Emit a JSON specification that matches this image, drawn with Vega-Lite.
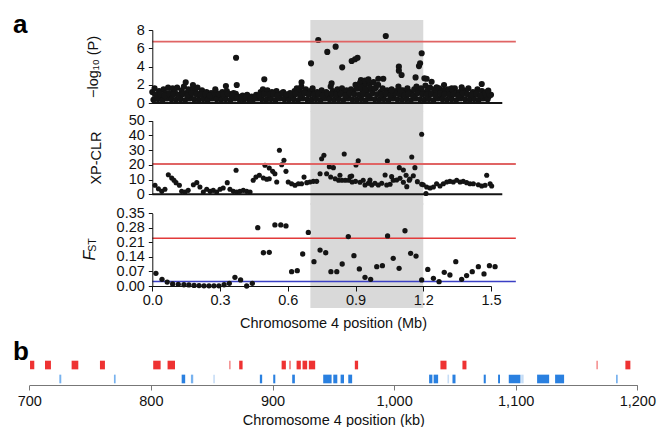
{
"$schema": "https://vega.github.io/schema/vega-lite/v6.json",
"padding": 0,
"spacing": 0,
"bounds": "flush",
"datasets": {
"p": [
{"x":0.00,"y":1.2},{"x":0.01,"y":1.6},{"x":0.02,"y":0.9},{"x":0.03,"y":1.3},{"x":0.04,"y":0.7},{"x":0.05,"y":1.5},{"x":0.06,"y":1.1},{"x":0.07,"y":1.7},{"x":0.08,"y":1.0},{"x":0.09,"y":1.6},
{"x":0.10,"y":1.2},{"x":0.11,"y":1.7},{"x":0.12,"y":0.9},{"x":0.13,"y":1.4},{"x":0.14,"y":1.8},{"x":0.15,"y":1.1},{"x":0.16,"y":1.5},{"x":0.17,"y":0.8},{"x":0.18,"y":1.6},{"x":0.19,"y":1.3},
{"x":0.20,"y":1.7},{"x":0.21,"y":1.0},{"x":0.22,"y":1.4},{"x":0.23,"y":0.8},{"x":0.24,"y":1.2},{"x":0.25,"y":0.7},{"x":0.26,"y":1.1},{"x":0.27,"y":0.9},{"x":0.28,"y":1.3},{"x":0.29,"y":0.8},
{"x":0.30,"y":1.0},{"x":0.31,"y":1.2},{"x":0.32,"y":0.9},{"x":0.33,"y":1.3},{"x":0.34,"y":1.0},{"x":0.35,"y":0.8},{"x":0.36,"y":1.1},{"x":0.37,"y":1.0},{"x":0.38,"y":0.7},{"x":0.39,"y":0.5},
{"x":0.40,"y":0.8},{"x":0.41,"y":0.6},{"x":0.42,"y":0.9},{"x":0.43,"y":0.5},{"x":0.44,"y":0.7},{"x":0.45,"y":0.6},{"x":0.46,"y":0.9},{"x":0.47,"y":0.7},{"x":0.48,"y":1.2},{"x":0.49,"y":1.5},
{"x":0.50,"y":1.1},{"x":0.51,"y":1.4},{"x":0.52,"y":0.8},{"x":0.53,"y":1.2},{"x":0.54,"y":0.9},{"x":0.55,"y":1.3},{"x":0.56,"y":0.7},{"x":0.57,"y":1.0},{"x":0.58,"y":1.2},{"x":0.59,"y":0.6},
{"x":0.60,"y":0.9},{"x":0.61,"y":1.1},{"x":0.62,"y":0.8},{"x":0.63,"y":1.3},{"x":0.64,"y":1.6},{"x":0.65,"y":1.4},{"x":0.66,"y":1.8},{"x":0.67,"y":1.2},{"x":0.68,"y":1.5},{"x":0.69,"y":1.0},
{"x":0.70,"y":1.3},{"x":0.71,"y":1.6},{"x":0.72,"y":1.1},{"x":0.73,"y":1.2},{"x":0.74,"y":0.9},{"x":0.75,"y":1.4},{"x":0.76,"y":1.0},{"x":0.77,"y":1.2},{"x":0.78,"y":0.8},{"x":0.79,"y":1.8},
{"x":0.80,"y":1.3},{"x":0.81,"y":1.0},{"x":0.82,"y":1.5},{"x":0.83,"y":1.2},{"x":0.84,"y":1.6},{"x":0.85,"y":1.1},{"x":0.86,"y":1.4},{"x":0.87,"y":0.9},{"x":0.88,"y":1.5},{"x":0.89,"y":1.2},
{"x":0.90,"y":2.0},{"x":0.91,"y":1.6},{"x":0.92,"y":2.2},{"x":0.93,"y":1.4},{"x":0.94,"y":1.9},{"x":0.95,"y":1.3},{"x":0.96,"y":2.1},{"x":0.97,"y":1.5},{"x":0.98,"y":2.3},{"x":0.99,"y":1.7},
{"x":1.00,"y":2.0},{"x":1.01,"y":1.2},{"x":1.02,"y":1.6},{"x":1.03,"y":1.0},{"x":1.04,"y":1.4},{"x":1.05,"y":1.1},{"x":1.06,"y":1.5},{"x":1.07,"y":0.9},{"x":1.08,"y":1.3},{"x":1.09,"y":1.2},
{"x":1.10,"y":1.0},{"x":1.11,"y":1.4},{"x":1.12,"y":1.1},{"x":1.13,"y":1.6},{"x":1.14,"y":1.2},{"x":1.15,"y":1.0},{"x":1.16,"y":1.5},{"x":1.17,"y":1.8},{"x":1.18,"y":1.3},{"x":1.19,"y":1.6},
{"x":1.20,"y":1.2},{"x":1.21,"y":1.9},{"x":1.22,"y":1.4},{"x":1.23,"y":1.7},{"x":1.24,"y":1.1},{"x":1.25,"y":1.5},{"x":1.26,"y":1.2},{"x":1.27,"y":1.6},{"x":1.28,"y":1.0},{"x":1.29,"y":1.4},
{"x":1.30,"y":1.1},{"x":1.31,"y":1.5},{"x":1.32,"y":0.9},{"x":1.33,"y":1.3},{"x":1.34,"y":1.6},{"x":1.35,"y":1.0},{"x":1.36,"y":1.2},{"x":1.37,"y":0.8},{"x":1.38,"y":1.4},{"x":1.39,"y":1.1},
{"x":1.40,"y":1.6},{"x":1.41,"y":0.9},{"x":1.42,"y":1.2},{"x":1.43,"y":1.0},{"x":1.44,"y":1.5},{"x":1.45,"y":0.8},{"x":1.46,"y":1.3},{"x":1.47,"y":1.0},{"x":1.48,"y":1.2},{"x":1.49,"y":0.7},{"x":1.50,"y":0.9},
{"x":0.005,"y":0.35},{"x":0.025,"y":0.45},{"x":0.045,"y":0.3},{"x":0.065,"y":0.5},{"x":0.085,"y":0.4},{"x":0.105,"y":0.35},{"x":0.125,"y":0.45},{"x":0.145,"y":0.3},{"x":0.165,"y":0.5},{"x":0.185,"y":0.4},
{"x":0.205,"y":0.35},{"x":0.225,"y":0.45},{"x":0.245,"y":0.3},{"x":0.265,"y":0.5},{"x":0.285,"y":0.4},{"x":0.305,"y":0.35},{"x":0.325,"y":0.45},{"x":0.345,"y":0.3},{"x":0.365,"y":0.5},{"x":0.385,"y":0.4},
{"x":0.405,"y":0.35},{"x":0.425,"y":0.45},{"x":0.445,"y":0.3},{"x":0.465,"y":0.5},{"x":0.485,"y":0.4},{"x":0.505,"y":0.35},{"x":0.525,"y":0.45},{"x":0.545,"y":0.3},{"x":0.565,"y":0.5},{"x":0.585,"y":0.4},
{"x":0.605,"y":0.35},{"x":0.625,"y":0.45},{"x":0.645,"y":0.3},{"x":0.665,"y":0.5},{"x":0.685,"y":0.4},{"x":0.705,"y":0.35},{"x":0.725,"y":0.45},{"x":0.745,"y":0.3},{"x":0.765,"y":0.5},{"x":0.785,"y":0.4},
{"x":0.805,"y":0.35},{"x":0.825,"y":0.45},{"x":0.845,"y":0.3},{"x":0.865,"y":0.5},{"x":0.885,"y":0.4},{"x":0.905,"y":0.35},{"x":0.925,"y":0.45},{"x":0.945,"y":0.3},{"x":0.965,"y":0.5},{"x":0.985,"y":0.4},
{"x":1.005,"y":0.35},{"x":1.025,"y":0.45},{"x":1.045,"y":0.3},{"x":1.065,"y":0.5},{"x":1.085,"y":0.4},{"x":1.105,"y":0.35},{"x":1.125,"y":0.45},{"x":1.145,"y":0.3},{"x":1.165,"y":0.5},{"x":1.185,"y":0.4},
{"x":1.205,"y":0.35},{"x":1.225,"y":0.45},{"x":1.245,"y":0.3},{"x":1.265,"y":0.5},{"x":1.285,"y":0.4},{"x":1.305,"y":0.35},{"x":1.325,"y":0.45},{"x":1.345,"y":0.3},{"x":1.365,"y":0.5},{"x":1.385,"y":0.4},
{"x":1.405,"y":0.35},{"x":1.425,"y":0.45},{"x":1.445,"y":0.3},{"x":1.465,"y":0.5},{"x":1.485,"y":0.4},
{"x":0.015,"y":0.9},{"x":0.035,"y":1.0},{"x":0.055,"y":0.8},{"x":0.075,"y":1.1},{"x":0.095,"y":0.95},{"x":0.115,"y":0.9},{"x":0.135,"y":1.0},{"x":0.155,"y":0.8},{"x":0.175,"y":1.1},{"x":0.195,"y":0.95},
{"x":0.215,"y":0.9},{"x":0.235,"y":1.0},{"x":0.255,"y":0.8},{"x":0.275,"y":1.1},{"x":0.295,"y":0.95},{"x":0.315,"y":0.9},{"x":0.335,"y":1.0},{"x":0.355,"y":0.8},{"x":0.375,"y":0.6},{"x":0.395,"y":0.5},
{"x":0.415,"y":0.6},{"x":0.435,"y":0.5},{"x":0.455,"y":0.6},{"x":0.475,"y":0.8},{"x":0.495,"y":0.95},{"x":0.515,"y":0.9},{"x":0.535,"y":1.0},{"x":0.555,"y":0.8},{"x":0.575,"y":1.1},{"x":0.595,"y":0.95},
{"x":0.615,"y":0.9},{"x":0.635,"y":1.0},{"x":0.655,"y":0.8},{"x":0.675,"y":1.1},{"x":0.695,"y":0.95},{"x":0.715,"y":0.9},{"x":0.735,"y":1.0},{"x":0.755,"y":0.8},{"x":0.775,"y":1.1},{"x":0.795,"y":0.95},
{"x":0.815,"y":0.9},{"x":0.835,"y":1.0},{"x":0.855,"y":0.8},{"x":0.875,"y":1.1},{"x":0.895,"y":0.95},{"x":0.915,"y":0.9},{"x":0.935,"y":1.0},{"x":0.955,"y":0.8},{"x":0.975,"y":1.1},{"x":0.995,"y":0.95},
{"x":1.015,"y":0.9},{"x":1.035,"y":1.0},{"x":1.055,"y":0.8},{"x":1.075,"y":1.1},{"x":1.095,"y":0.95},{"x":1.115,"y":0.9},{"x":1.135,"y":1.0},{"x":1.155,"y":0.8},{"x":1.175,"y":1.1},{"x":1.195,"y":0.95},
{"x":1.215,"y":0.9},{"x":1.235,"y":1.0},{"x":1.255,"y":0.8},{"x":1.275,"y":1.1},{"x":1.295,"y":0.95},{"x":1.315,"y":0.9},{"x":1.335,"y":1.0},{"x":1.355,"y":0.8},{"x":1.375,"y":1.1},{"x":1.395,"y":0.95},
{"x":1.415,"y":0.9},{"x":1.435,"y":1.0},{"x":1.455,"y":0.8},{"x":1.475,"y":1.1},{"x":1.495,"y":0.9},
{"x":0.905,"y":1.6},{"x":0.925,"y":1.7},{"x":0.945,"y":1.5},{"x":0.965,"y":1.7},{"x":0.985,"y":1.6},
{"x":0.148,"y":2.27},{"x":0.18,"y":1.97},{"x":0.279,"y":1.5},{"x":0.326,"y":1.86},{"x":0.371,"y":4.96},{"x":0.374,"y":1.97},{"x":0.496,"y":2.6},{"x":0.661,"y":2.27},
{"x":0.703,"y":4.35},{"x":0.735,"y":6.9},{"x":0.775,"y":5.6},{"x":0.794,"y":2.16},{"x":0.812,"y":6.17},{"x":0.841,"y":3.91},{"x":0.883,"y":4.6},{"x":0.898,"y":4.79},{"x":0.909,"y":4.96},
{"x":0.924,"y":2.5},{"x":0.942,"y":2.45},{"x":0.957,"y":2.6},{"x":1.001,"y":2.66},{"x":1.023,"y":2.66},{"x":1.034,"y":7.34},{"x":1.092,"y":3.98},{"x":1.092,"y":3.54},{"x":1.104,"y":3.07},
{"x":1.166,"y":2.8},{"x":1.181,"y":4.05},{"x":1.186,"y":4.35},{"x":1.193,"y":5.45},{"x":1.205,"y":2.7},{"x":1.215,"y":2.66},{"x":1.237,"y":2.33},{"x":1.259,"y":1.72},{"x":1.292,"y":1.97},
{"x":1.326,"y":1.6},{"x":1.37,"y":1.72},{"x":1.459,"y":2.08},{"x":1.488,"y":1.35},{"x":1.06,"y":1.4},{"x":1.09,"y":1.8},{"x":1.10,"y":1.4}
],
"q": [
{"x":0.012,"y":6.1},{"x":0.027,"y":3.8},{"x":0.042,"y":2.0},{"x":0.056,"y":3.4},{"x":0.071,"y":13.3},{"x":0.086,"y":11.1},{"x":0.096,"y":9.5},{"x":0.105,"y":7.9},{"x":0.12,"y":6.1},{"x":0.13,"y":2.0},
{"x":0.145,"y":1.6},{"x":0.159,"y":2.7},{"x":0.182,"y":6.5},{"x":0.197,"y":7.9},{"x":0.211,"y":5.0},{"x":0.226,"y":1.6},{"x":0.241,"y":3.4},{"x":0.256,"y":2.0},{"x":0.27,"y":2.7},{"x":0.285,"y":1.6},
{"x":0.3,"y":3.4},{"x":0.314,"y":4.3},{"x":0.332,"y":7.9},{"x":0.344,"y":3.4},{"x":0.359,"y":2.0},{"x":0.371,"y":16.3},{"x":0.374,"y":1.6},{"x":0.388,"y":2.0},{"x":0.403,"y":2.7},{"x":0.418,"y":2.0},
{"x":0.433,"y":1.6},{"x":0.447,"y":9.5},{"x":0.459,"y":11.7},{"x":0.474,"y":12.9},{"x":0.492,"y":11.1},{"x":0.499,"y":19.7},{"x":0.507,"y":10.2},{"x":0.518,"y":10.6},{"x":0.518,"y":17.9},{"x":0.533,"y":15.6},
{"x":0.543,"y":14.0},{"x":0.551,"y":8.4},{"x":0.563,"y":29.9},{"x":0.573,"y":20.1},{"x":0.583,"y":23.1},{"x":0.592,"y":15.6},{"x":0.602,"y":8.4},{"x":0.617,"y":7.2},{"x":0.632,"y":6.1},{"x":0.647,"y":7.2},
{"x":0.661,"y":7.2},{"x":0.672,"y":11.7},{"x":0.684,"y":7.9},{"x":0.698,"y":8.4},{"x":0.713,"y":8.8},{"x":0.728,"y":8.8},{"x":0.743,"y":14.0},{"x":0.75,"y":24.2},{"x":0.76,"y":26.5},{"x":0.772,"y":14.0},
{"x":0.784,"y":18.8},{"x":0.79,"y":11.8},{"x":0.802,"y":18.1},{"x":0.81,"y":10.6},{"x":0.825,"y":9.5},{"x":0.831,"y":12.9},{"x":0.84,"y":9.5},{"x":0.85,"y":27.4},{"x":0.855,"y":9.5},{"x":0.87,"y":9.5},
{"x":0.876,"y":12.0},{"x":0.883,"y":12.4},{"x":0.885,"y":8.4},{"x":0.9,"y":8.8},{"x":0.902,"y":19.9},{"x":0.912,"y":22.8},{"x":0.92,"y":8.2},{"x":0.934,"y":9.5},{"x":0.942,"y":6.3},{"x":0.957,"y":7.5},
{"x":0.961,"y":7.9},{"x":0.964,"y":9.7},{"x":0.972,"y":6.3},{"x":0.986,"y":7.5},{"x":1.001,"y":6.3},{"x":1.016,"y":7.5},{"x":1.031,"y":13.1},{"x":1.038,"y":6.3},{"x":1.041,"y":22.6},{"x":1.053,"y":6.8},
{"x":1.06,"y":12.0},{"x":1.067,"y":9.5},{"x":1.082,"y":9.7},{"x":1.094,"y":18.1},{"x":1.097,"y":10.9},{"x":1.112,"y":16.5},{"x":1.112,"y":8.2},{"x":1.124,"y":12.9},{"x":1.127,"y":5.2},{"x":1.138,"y":9.5},
{"x":1.141,"y":10.4},{"x":1.149,"y":25.3},{"x":1.156,"y":12.6},{"x":1.163,"y":18.1},{"x":1.174,"y":8.6},{"x":1.193,"y":40.8},{"x":1.193,"y":6.8},{"x":1.2,"y":6.5},{"x":1.212,"y":0.5},{"x":1.215,"y":5.0},
{"x":1.23,"y":4.3},{"x":1.245,"y":5.0},{"x":1.259,"y":7.2},{"x":1.274,"y":5.6},{"x":1.289,"y":7.2},{"x":1.304,"y":8.4},{"x":1.318,"y":8.8},{"x":1.333,"y":8.4},{"x":1.348,"y":9.5},{"x":1.363,"y":8.4},
{"x":1.377,"y":8.8},{"x":1.392,"y":7.9},{"x":1.407,"y":7.2},{"x":1.422,"y":7.2},{"x":1.444,"y":6.5},{"x":1.459,"y":5.6},{"x":1.474,"y":6.1},{"x":1.481,"y":12.9},{"x":1.496,"y":7.2},{"x":1.503,"y":5.6}
],
"f": [
{"x":0.016,"y":0.061},{"x":0.043,"y":0.032},{"x":0.066,"y":0.019},{"x":0.09,"y":0.010},{"x":0.115,"y":0.008},{"x":0.14,"y":0.006},{"x":0.162,"y":0.005},{"x":0.185,"y":0.003},{"x":0.207,"y":0.002},{"x":0.229,"y":0.001},
{"x":0.251,"y":0.001},{"x":0.273,"y":0.001},{"x":0.295,"y":0.001},{"x":0.318,"y":0.006},{"x":0.341,"y":0.013},{"x":0.366,"y":0.042},{"x":0.391,"y":0.029},{"x":0.418,"y":0.0},{"x":0.443,"y":0.013},{"x":0.467,"y":0.281},
{"x":0.492,"y":0.16},{"x":0.518,"y":0.162},{"x":0.543,"y":0.294},{"x":0.569,"y":0.294},{"x":0.592,"y":0.289},{"x":0.617,"y":0.069},{"x":0.642,"y":0.074},{"x":0.666,"y":0.154},{"x":0.691,"y":0.258},{"x":0.716,"y":0.117},
{"x":0.743,"y":0.173},{"x":0.768,"y":0.16},{"x":0.791,"y":0.069},{"x":0.817,"y":0.069},{"x":0.841,"y":0.106},{"x":0.868,"y":0.238},{"x":0.893,"y":0.146},{"x":0.917,"y":0.082},{"x":0.942,"y":0.042},{"x":0.967,"y":0.032},
{"x":0.994,"y":0.093},{"x":1.019,"y":0.098},{"x":1.042,"y":0.241},{"x":1.067,"y":0.133},{"x":1.093,"y":0.085},{"x":1.119,"y":0.266},{"x":1.144,"y":0.157},{"x":1.168,"y":0.144},{"x":1.193,"y":0.029},{"x":1.22,"y":0.08},
{"x":1.245,"y":0.037},{"x":1.27,"y":0.021},{"x":1.293,"y":0.066},{"x":1.318,"y":0.053},{"x":1.344,"y":0.117},{"x":1.37,"y":0.032},{"x":1.392,"y":0.05},{"x":1.417,"y":0.069},{"x":1.444,"y":0.093},{"x":1.469,"y":0.058},
{"x":1.493,"y":0.098},{"x":1.518,"y":0.093}
],
"g": [
{"s":700.6,"e":704.1,"t":"r","g":"r1"},{"s":712.9,"e":717.8,"t":"r","g":"r1"},{"s":734.8,"e":740.3,"t":"r","g":"r1"},{"s":758.1,"e":762.2,"t":"r","g":"r1"},{"s":801.9,"e":808.0,"t":"r","g":"r1"},
{"s":813.7,"e":819.8,"t":"r","g":"r1"},{"s":864.4,"e":865.5,"t":"r","g":"r2"},{"s":872.6,"e":875.4,"t":"r","g":"r1"},{"s":907.5,"e":911.0,"t":"r","g":"r1"},{"s":913.7,"e":915.1,"t":"r","g":"r2"},
{"s":919.8,"e":923.3,"t":"r","g":"r1"},{"s":924.7,"e":928.5,"t":"r","g":"r1"},{"s":929.9,"e":935.1,"t":"r","g":"r1"},{"s":967.7,"e":970.4,"t":"r","g":"r1"},{"s":1038.1,"e":1043.1,"t":"r","g":"r1"},
{"s":1056.2,"e":1059.5,"t":"r","g":"r1"},{"s":1166.4,"e":1167.5,"t":"r","g":"r2"},{"s":1190.2,"e":1194.3,"t":"r","g":"r1"},
{"s":724.7,"e":726.3,"t":"b","g":"b2"},{"s":769.6,"e":771.0,"t":"b","g":"b2"},{"s":825.3,"e":828.2,"t":"b","g":"b1"},{"s":832.9,"e":834.8,"t":"b","g":"b2"},{"s":851.3,"e":852.6,"t":"b","g":"b3"},
{"s":889.6,"e":891.5,"t":"b","g":"b1"},{"s":900.6,"e":902.3,"t":"b","g":"b1"},{"s":916.2,"e":918.4,"t":"b","g":"b1"},{"s":941.7,"e":948.6,"t":"b","g":"b1"},{"s":950.0,"e":953.3,"t":"b","g":"b1"},
{"s":956.0,"e":958.8,"t":"b","g":"b1"},{"s":962.3,"e":965.5,"t":"b","g":"b1"},{"s":1028.8,"e":1031.5,"t":"b","g":"b1"},{"s":1032.5,"e":1036.2,"t":"b","g":"b1"},{"s":1043.9,"e":1045.2,"t":"b","g":"b3"},
{"s":1048.0,"e":1050.5,"t":"b","g":"b1"},{"s":1073.7,"e":1075.4,"t":"b","g":"b1"},{"s":1085.5,"e":1087.1,"t":"b","g":"b1"},{"s":1094.3,"e":1103.9,"t":"b","g":"b1"},{"s":1104.5,"e":1106.5,"t":"b","g":"b3"},
{"s":1117.6,"e":1127.5,"t":"b","g":"b1"},{"s":1132.4,"e":1139.8,"t":"b","g":"b1"},{"s":1182.5,"e":1183.9,"t":"b","g":"b2"}
]
},
"vconcat": [
{
"width": 657, "height": 112,
"layer": [
{"data": {"values": [{}]}, "mark": {"type": "rect", "color": "#d9d9d9"},
 "encoding": {
  "x": {"datum": 0.7, "type": "quantitative", "scale": {"domain": [0, 1.5], "range": [152.3, 491], "nice": false, "zero": false}, "axis": null},
  "x2": {"datum": 1.2},
  "y": {"datum": 9.1, "type": "quantitative", "scale": {"domain": [0, 8], "range": [103, 30], "nice": false, "zero": false}, "axis": {"values": [0, 2, 4, 6, 8], "format": "d", "labelOverlap": false, "offset": -152.3, "zindex": 1, "title": "−log₁₀ (P)", "titleX": -59, "titleAlign": "center", "titleBaseline": "middle", "titleAngle": 270}},
  "y2": {"datum": -0.99}}},
{"data": {"name": "p"}, "mark": {"type": "circle", "color": "#141414", "size": 38, "opacity": 1},
 "encoding": {
  "x": {"field": "x", "type": "quantitative", "axis": null},
  "y": {"field": "y", "type": "quantitative", "axis": {"values": [0, 2, 4, 6, 8], "format": "d", "labelOverlap": false, "offset": -152.3, "zindex": 1, "title": "−log₁₀ (P)", "titleX": -59, "titleAlign": "center", "titleBaseline": "middle", "titleAngle": 270}}}},
{"data": {"values": [{}]}, "mark": {"type": "rule", "color": "#141414", "strokeWidth": 2},
 "encoding": {"x": {"datum": 0, "type": "quantitative", "axis": null}, "x2": {"datum": 1.55}, "y": {"datum": 0, "type": "quantitative", "axis": {"values": [0, 2, 4, 6, 8], "format": "d", "labelOverlap": false, "offset": -152.3, "zindex": 1, "title": "−log₁₀ (P)", "titleX": -59, "titleAlign": "center", "titleBaseline": "middle", "titleAngle": 270}}}},
{"data": {"values": [{}]}, "mark": {"type": "rule", "color": "#e06464", "strokeWidth": 1.8},
 "encoding": {"x": {"datum": 0, "type": "quantitative", "axis": null}, "x2": {"datum": 1.61}, "y": {"datum": 6.72, "type": "quantitative", "axis": {"values": [0, 2, 4, 6, 8], "format": "d", "labelOverlap": false, "offset": -152.3, "zindex": 1, "title": "−log₁₀ (P)", "titleX": -59, "titleAlign": "center", "titleBaseline": "middle", "titleAngle": 270}}}},
{"data": {"values": [{}]}, "mark": {"type": "text", "text": "a", "fontSize": 26, "fontWeight": "bold", "align": "left", "baseline": "alphabetic", "color": "#000"},
 "encoding": {"x": {"datum": -0.617, "type": "quantitative", "axis": null}, "y": {"datum": 7.67, "type": "quantitative", "axis": {"values": [0, 2, 4, 6, 8], "format": "d", "labelOverlap": false, "offset": -152.3, "zindex": 1, "title": "−log₁₀ (P)", "titleX": -59, "titleAlign": "center", "titleBaseline": "middle", "titleAngle": 270}}}}
]
},
{
"width": 657, "height": 92,
"layer": [
{"data": {"values": [{}]}, "mark": {"type": "rect", "color": "#d9d9d9"},
 "encoding": {
  "x": {"datum": 0.7, "type": "quantitative", "scale": {"domain": [0, 1.5], "range": [152.3, 491], "nice": false, "zero": false}, "axis": null},
  "x2": {"datum": 1.2},
  "y": {"datum": 56.5, "type": "quantitative", "scale": {"domain": [0, 50], "range": [82.3, 8.7], "nice": false, "zero": false}, "axis": {"values": [0, 10, 20, 30, 40, 50], "format": "d", "labelOverlap": false, "offset": -152.3, "zindex": 1, "title": "XP-CLR", "titleX": -56, "titleAlign": "center", "titleBaseline": "middle", "titleAngle": 270}},
  "y2": {"datum": -7.2}}},
{"data": {"name": "q"}, "mark": {"type": "circle", "color": "#141414", "size": 26, "opacity": 1},
 "encoding": {
  "x": {"field": "x", "type": "quantitative", "axis": null},
  "y": {"field": "y", "type": "quantitative", "axis": {"values": [0, 10, 20, 30, 40, 50], "format": "d", "labelOverlap": false, "offset": -152.3, "zindex": 1, "title": "XP-CLR", "titleX": -56, "titleAlign": "center", "titleBaseline": "middle", "titleAngle": 270}}}},
{"data": {"values": [{}]}, "mark": {"type": "rule", "color": "#141414", "strokeWidth": 2},
 "encoding": {"x": {"datum": 0, "type": "quantitative", "axis": null}, "x2": {"datum": 1.55}, "y": {"datum": 0, "type": "quantitative", "axis": {"values": [0, 10, 20, 30, 40, 50], "format": "d", "labelOverlap": false, "offset": -152.3, "zindex": 1, "title": "XP-CLR", "titleX": -56, "titleAlign": "center", "titleBaseline": "middle", "titleAngle": 270}}}},
{"data": {"values": [{}]}, "mark": {"type": "rule", "color": "#e06464", "strokeWidth": 1.8},
 "encoding": {"x": {"datum": 0, "type": "quantitative", "axis": null}, "x2": {"datum": 1.61}, "y": {"datum": 20.6, "type": "quantitative", "axis": {"values": [0, 10, 20, 30, 40, 50], "format": "d", "labelOverlap": false, "offset": -152.3, "zindex": 1, "title": "XP-CLR", "titleX": -56, "titleAlign": "center", "titleBaseline": "middle", "titleAngle": 270}}}}
]
},
{
"width": 657, "height": 126,
"layer": [
{"data": {"values": [{}]}, "mark": {"type": "rect", "color": "#d9d9d9"},
 "encoding": {
  "x": {"datum": 0.7, "type": "quantitative", "scale": {"domain": [0, 1.5], "range": [152.3, 491], "nice": false, "zero": false}, "axis": {"values": [0, 0.3, 0.6, 0.9, 1.2, 1.5], "format": ".1f", "labelOverlap": false, "offset": -44, "zindex": 1, "tickSize": 5, "labelPadding": 2, "title": "Chromosome 4 position (Mb)", "titleX": 333, "titleY": 41.7, "titleAlign": "center", "titleBaseline": "alphabetic"}},
  "x2": {"datum": 1.2},
  "y": {"datum": 0.4, "type": "quantitative", "scale": {"domain": [0, 0.35], "range": [82, 9.3], "nice": false, "zero": false}, "axis": {"values": [0, 0.07, 0.14, 0.21, 0.28, 0.35], "format": ".2f", "labelOverlap": false, "offset": -152.3, "zindex": 1, "title": "F", "titleFontStyle": "italic", "titleFontSize": 16, "titleX": -63, "titleY": 51, "titleAlign": "center", "titleBaseline": "middle", "titleAngle": 270}},
  "y2": {"datum": -0.106}}},
{"data": {"values": [{}]}, "mark": {"type": "rule", "color": "#3a3fc4", "strokeWidth": 1.5},
 "encoding": {"x": {"datum": 0, "type": "quantitative", "axis": {"values": [0, 0.3, 0.6, 0.9, 1.2, 1.5], "format": ".1f", "labelOverlap": false, "offset": -44, "zindex": 1, "tickSize": 5, "labelPadding": 2, "title": "Chromosome 4 position (Mb)", "titleX": 333, "titleY": 41.7, "titleAlign": "center", "titleBaseline": "alphabetic"}}, "x2": {"datum": 1.61}, "y": {"datum": 0.022, "type": "quantitative", "axis": {"values": [0, 0.07, 0.14, 0.21, 0.28, 0.35], "format": ".2f", "labelOverlap": false, "offset": -152.3, "zindex": 1, "title": "F", "titleFontStyle": "italic", "titleFontSize": 16, "titleX": -63, "titleY": 51, "titleAlign": "center", "titleBaseline": "middle", "titleAngle": 270}}}},
{"data": {"values": [{}]}, "mark": {"type": "rule", "color": "#e23a3a", "strokeWidth": 1.5},
 "encoding": {"x": {"datum": 0, "type": "quantitative", "axis": {"values": [0, 0.3, 0.6, 0.9, 1.2, 1.5], "format": ".1f", "labelOverlap": false, "offset": -44, "zindex": 1, "tickSize": 5, "labelPadding": 2, "title": "Chromosome 4 position (Mb)", "titleX": 333, "titleY": 41.7, "titleAlign": "center", "titleBaseline": "alphabetic"}}, "x2": {"datum": 1.61}, "y": {"datum": 0.23, "type": "quantitative", "axis": {"values": [0, 0.07, 0.14, 0.21, 0.28, 0.35], "format": ".2f", "labelOverlap": false, "offset": -152.3, "zindex": 1, "title": "F", "titleFontStyle": "italic", "titleFontSize": 16, "titleX": -63, "titleY": 51, "titleAlign": "center", "titleBaseline": "middle", "titleAngle": 270}}}},
{"data": {"name": "f"}, "mark": {"type": "circle", "color": "#141414", "size": 28, "opacity": 1},
 "encoding": {
  "x": {"field": "x", "type": "quantitative", "axis": {"values": [0, 0.3, 0.6, 0.9, 1.2, 1.5], "format": ".1f", "labelOverlap": false, "offset": -44, "zindex": 1, "tickSize": 5, "labelPadding": 2, "title": "Chromosome 4 position (Mb)", "titleX": 333, "titleY": 41.7, "titleAlign": "center", "titleBaseline": "alphabetic"}},
  "y": {"field": "y", "type": "quantitative", "axis": {"values": [0, 0.07, 0.14, 0.21, 0.28, 0.35], "format": ".2f", "labelOverlap": false, "offset": -152.3, "zindex": 1, "title": "F", "titleFontStyle": "italic", "titleFontSize": 16, "titleX": -63, "titleY": 51, "titleAlign": "center", "titleBaseline": "middle", "titleAngle": 270}}}},
{"data": {"values": [{}]}, "mark": {"type": "text", "text": "ST", "fontSize": 10.5, "angle": 270, "align": "center", "baseline": "middle", "color": "#111"},
 "encoding": {"x": {"datum": -0.262, "type": "quantitative", "axis": {"values": [0, 0.3, 0.6, 0.9, 1.2, 1.5], "format": ".1f", "labelOverlap": false, "offset": -44, "zindex": 1, "tickSize": 5, "labelPadding": 2, "title": "Chromosome 4 position (Mb)", "titleX": 333, "titleY": 41.7, "titleAlign": "center", "titleBaseline": "alphabetic"}}, "y": {"datum": 0.197, "type": "quantitative", "axis": {"values": [0, 0.07, 0.14, 0.21, 0.28, 0.35], "format": ".2f", "labelOverlap": false, "offset": -152.3, "zindex": 1, "title": "F", "titleFontStyle": "italic", "titleFontSize": 16, "titleX": -63, "titleY": 51, "titleAlign": "center", "titleBaseline": "middle", "titleAngle": 270}}}}
]
},
{
"width": 657, "height": 97,
"layer": [
{"data": {"name": "g"}, "mark": {"type": "rect"},
 "encoding": {
  "x": {"field": "s", "type": "quantitative", "scale": {"domain": [700, 1200], "range": [29.3, 637.3], "nice": false, "zero": false},
        "axis": {"values": [700, 800, 900, 1000, 1100, 1200], "format": ",d", "labelOverlap": false, "offset": -42, "zindex": 1, "tickSize": 5, "labelPadding": 4, "domainColor": "#777", "tickColor": "#777", "title": "Chromosome 4 position (kb)", "titleY": 39.5, "titleBaseline": "alphabetic"}},
  "x2": {"field": "e"},
  "y": {"field": "t", "type": "nominal", "scale": {"domain": ["r", "b"], "range": [30.7, 53.3], "paddingInner": 0.38, "paddingOuter": 0}, "axis": null},
  "color": {"field": "g", "type": "nominal", "scale": {"domain": ["r1", "r2", "b1", "b2", "b3"], "range": ["#ee3232", "#f27c7c", "#2a80e0", "#78b2ee", "#c6ddf6"]}, "legend": null}}},
{"data": {"values": [{}]}, "mark": {"type": "text", "text": "b", "fontSize": 26, "fontWeight": "bold", "align": "left", "baseline": "bottom", "color": "#000"},
 "encoding": {"x": {"datum": 686.6, "type": "quantitative", "axis": {"values": [700, 800, 900, 1000, 1100, 1200], "format": ",d", "labelOverlap": false, "offset": -42, "zindex": 1, "tickSize": 5, "labelPadding": 4, "domainColor": "#777", "tickColor": "#777", "title": "Chromosome 4 position (kb)", "titleY": 39.5, "titleBaseline": "alphabetic"}}, "y": {"datum": "r", "type": "nominal", "axis": null}}}
]
}
],
"config": {
 "view": {"stroke": null},
 "font": "Liberation Sans",
 "axis": {"grid": false, "labelFlush": false, "labelOverlap": false, "labelFontSize": 14.5, "titleFontSize": 14.5, "titleFontWeight": "normal", "labelColor": "#111", "titleColor": "#111", "domainColor": "#111", "tickColor": "#111", "tickSize": 4, "labelPadding": 4, "domainWidth": 1, "tickWidth": 1}
}
}
